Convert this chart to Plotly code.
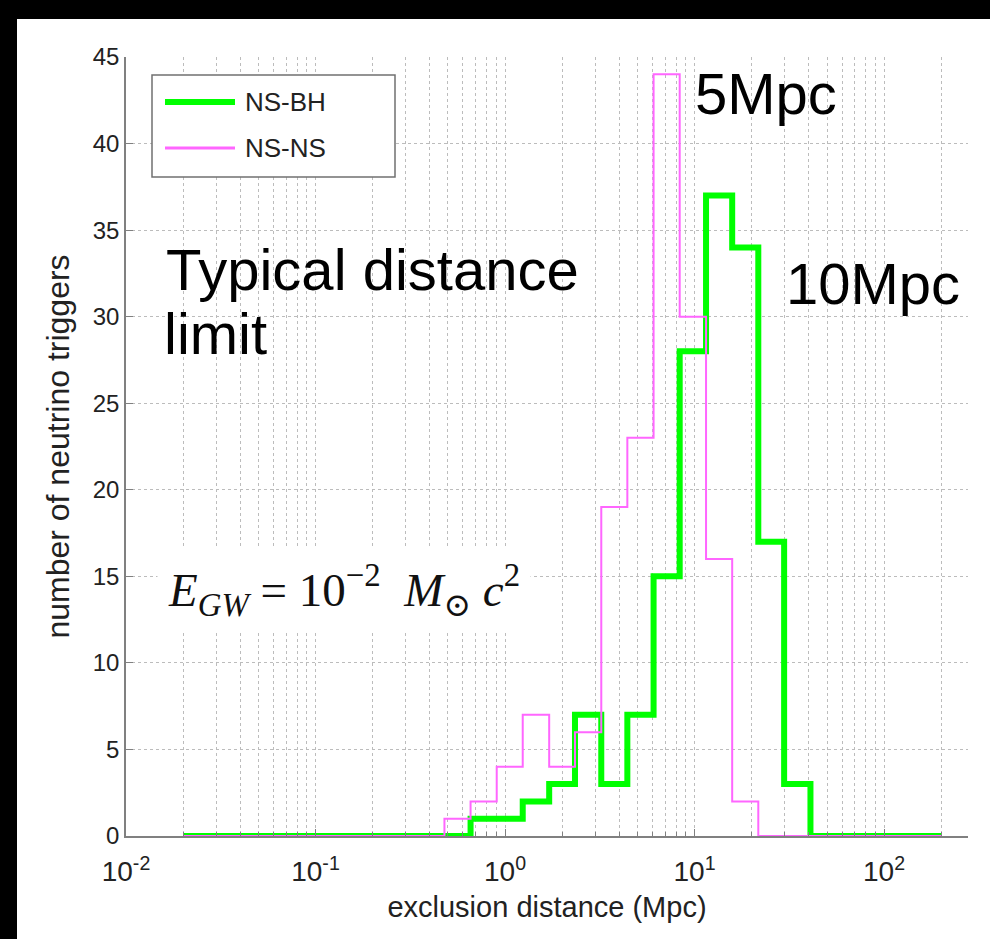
import plotly.graph_objects as go

# ---------------- data ----------------
# log-spaced bin edges (Mpc), 29 bins from 0.02 to 200
bin_edges = [0.02, 0.0275, 0.0378, 0.0519, 0.0712, 0.0979, 0.134, 0.185, 0.254,
             0.349, 0.479, 0.658, 0.904, 1.24, 1.71, 2.34, 3.22, 4.42, 6.08,
             8.35, 11.5, 15.8, 21.7, 29.7, 40.9, 56.1, 77.1, 106, 146, 200]

ns_bh_counts = [0, 0, 0, 0, 0, 0, 0, 0, 0, 0, 0,
                1, 1, 2, 3, 7, 3, 7, 15, 28, 37, 34, 17, 3,
                0, 0, 0, 0, 0]
ns_ns_counts = [0, 0, 0, 0, 0, 0, 0, 0, 0, 0,
                1, 2, 4, 7, 4, 6, 19, 23, 44, 30, 16, 2,
                0, 0, 0, 0, 0, 0, 0]

series_names = ["NS-BH", "NS-NS"]
x_tick_vals = [0.01, 0.1, 1, 10, 100]
x_tick_text = ["10<sup>-2</sup>", "10<sup>-1</sup>", "10<sup>0</sup>",
               "10<sup>1</sup>", "10<sup>2</sup>"]
y_tick_vals = [0, 5, 10, 15, 20, 25, 30, 35, 40, 45]

# ---------------- layout geometry (pixels) ----------------
W, H = 990, 939
L, R, T, B = 126, 22, 57, 103
PW, PH = W - L - R, H - T - B


def px(x):
    return (x - L) / PW


def py(y):
    return (H - B - y) / PH


SANS = "Liberation Sans, Arial, Helvetica, sans-serif"
SERIF = "Liberation Serif, Times New Roman, DejaVu Serif, serif"

fig = go.Figure()

fig.add_trace(go.Scatter(
    x=bin_edges, y=ns_bh_counts + [ns_bh_counts[-1]],
    mode="lines", line=dict(shape="hv", color="#00ff00", width=6),
    name=series_names[0], showlegend=False))
fig.add_trace(go.Scatter(
    x=bin_edges, y=ns_ns_counts + [ns_ns_counts[-1]],
    mode="lines", line=dict(shape="hv", color="#ff66ff", width=2),
    name=series_names[1], showlegend=False))

grid_col = "#bcbcbc"
axis_col = "#808080"

fig.update_xaxes(
    type="log", range=[-2, 2.443],
    tickvals=x_tick_vals, ticktext=x_tick_text,
    ticks="inside", ticklen=7, tickcolor=axis_col,
    showline=True, linecolor=axis_col, linewidth=1.5, mirror=False,
    showgrid=True, gridcolor=grid_col, griddash="dot", gridwidth=1,
    zeroline=False, ticklabelstandoff=10,
    minor=dict(ticks="inside", ticklen=4, tickcolor=axis_col, dtick="D1",
               showgrid=True, gridcolor=grid_col, griddash="dot", gridwidth=1),
    tickfont=dict(family=SANS, size=28, color="#222"),
    title=dict(text="exclusion distance (Mpc)", standoff=10,
               font=dict(family=SANS, size=29, color="#222")),
)
fig.update_yaxes(
    range=[0, 45], tickvals=y_tick_vals,
    ticks="inside", ticklen=7, tickcolor=axis_col,
    showline=True, linecolor=axis_col, linewidth=1.5, mirror=False,
    showgrid=True, gridcolor=grid_col, griddash="dot", gridwidth=1,
    zeroline=False,
    tickfont=dict(family=SANS, size=24, color="#222"),
    title=dict(text="number of neutrino triggers", standoff=14,
               font=dict(family=SANS, size=32, color="#222")),
)

shapes = [
    # black frame strips (top and left)
    dict(type="rect", xref="paper", yref="paper", x0=px(-10), x1=px(17),
         y0=py(H + 10), y1=py(-10), fillcolor="black", line_width=0, layer="above"),
    dict(type="rect", xref="paper", yref="paper", x0=px(-10), x1=px(W + 10),
         y0=py(19), y1=py(-10), fillcolor="black", line_width=0, layer="above"),
    # legend box
    dict(type="rect", xref="paper", yref="paper", x0=px(152), x1=px(395),
         y0=py(177), y1=py(75), fillcolor="white",
         line=dict(color="#707070", width=1.5), layer="above"),
    dict(type="line", xref="paper", yref="paper", x0=px(165), x1=px(235),
         y0=py(102), y1=py(102), line=dict(color="#00ff00", width=6), layer="above"),
    dict(type="line", xref="paper", yref="paper", x0=px(165), x1=px(235),
         y0=py(148), y1=py(148), line=dict(color="#ff66ff", width=3), layer="above"),
]

annotations = [
    dict(text=series_names[0], xref="paper", yref="paper", x=px(243), y=py(102),
         xanchor="left", yanchor="middle", showarrow=False,
         font=dict(family=SANS, size=26, color="#222")),
    dict(text=series_names[1], xref="paper", yref="paper", x=px(243), y=py(148),
         xanchor="left", yanchor="middle", showarrow=False,
         font=dict(family=SANS, size=26, color="#222")),
    dict(text="5Mpc", xref="paper", yref="paper", x=px(693), y=py(93),
         xanchor="left", yanchor="middle", showarrow=False,
         font=dict(family=SANS, size=58, color="black")),
    dict(text="10Mpc", xref="paper", yref="paper", x=px(784), y=py(283),
         xanchor="left", yanchor="middle", showarrow=False,
         font=dict(family=SANS, size=58, color="black")),
    dict(text="Typical distance", xref="paper", yref="paper", x=px(164), y=py(269),
         xanchor="left", yanchor="middle", showarrow=False,
         font=dict(family=SANS, size=58, color="black")),
    dict(text="limit", xref="paper", yref="paper", x=px(162), y=py(333),
         xanchor="left", yanchor="middle", showarrow=False,
         font=dict(family=SANS, size=58, color="black")),
    dict(text="<i>E</i><sub><i>GW</i></sub> = 10<sup>−2</sup>  <i>M</i><sub>⊙</sub> <i>c</i><sup>2</sup>",
         xref="paper", yref="paper", x=px(344), y=py(590),
         xanchor="center", yanchor="middle", showarrow=False,
         width=370, height=80, bgcolor="white", align="center",
         font=dict(family=SERIF, size=47, color="#111")),
]

fig.update_layout(
    width=W, height=H,
    margin=dict(l=L, r=R, t=T, b=B, autoexpand=False),
    paper_bgcolor="white", plot_bgcolor="white",
    shapes=shapes, annotations=annotations,
    showlegend=False,
)

fig.write_html(
    "out.html",
    config={"displayModeBar": False},
    post_script="document.body.style.margin='0';document.body.style.padding='0';"
                "document.body.style.overflow='hidden';"
                "document.documentElement.style.overflow='hidden';",
)
